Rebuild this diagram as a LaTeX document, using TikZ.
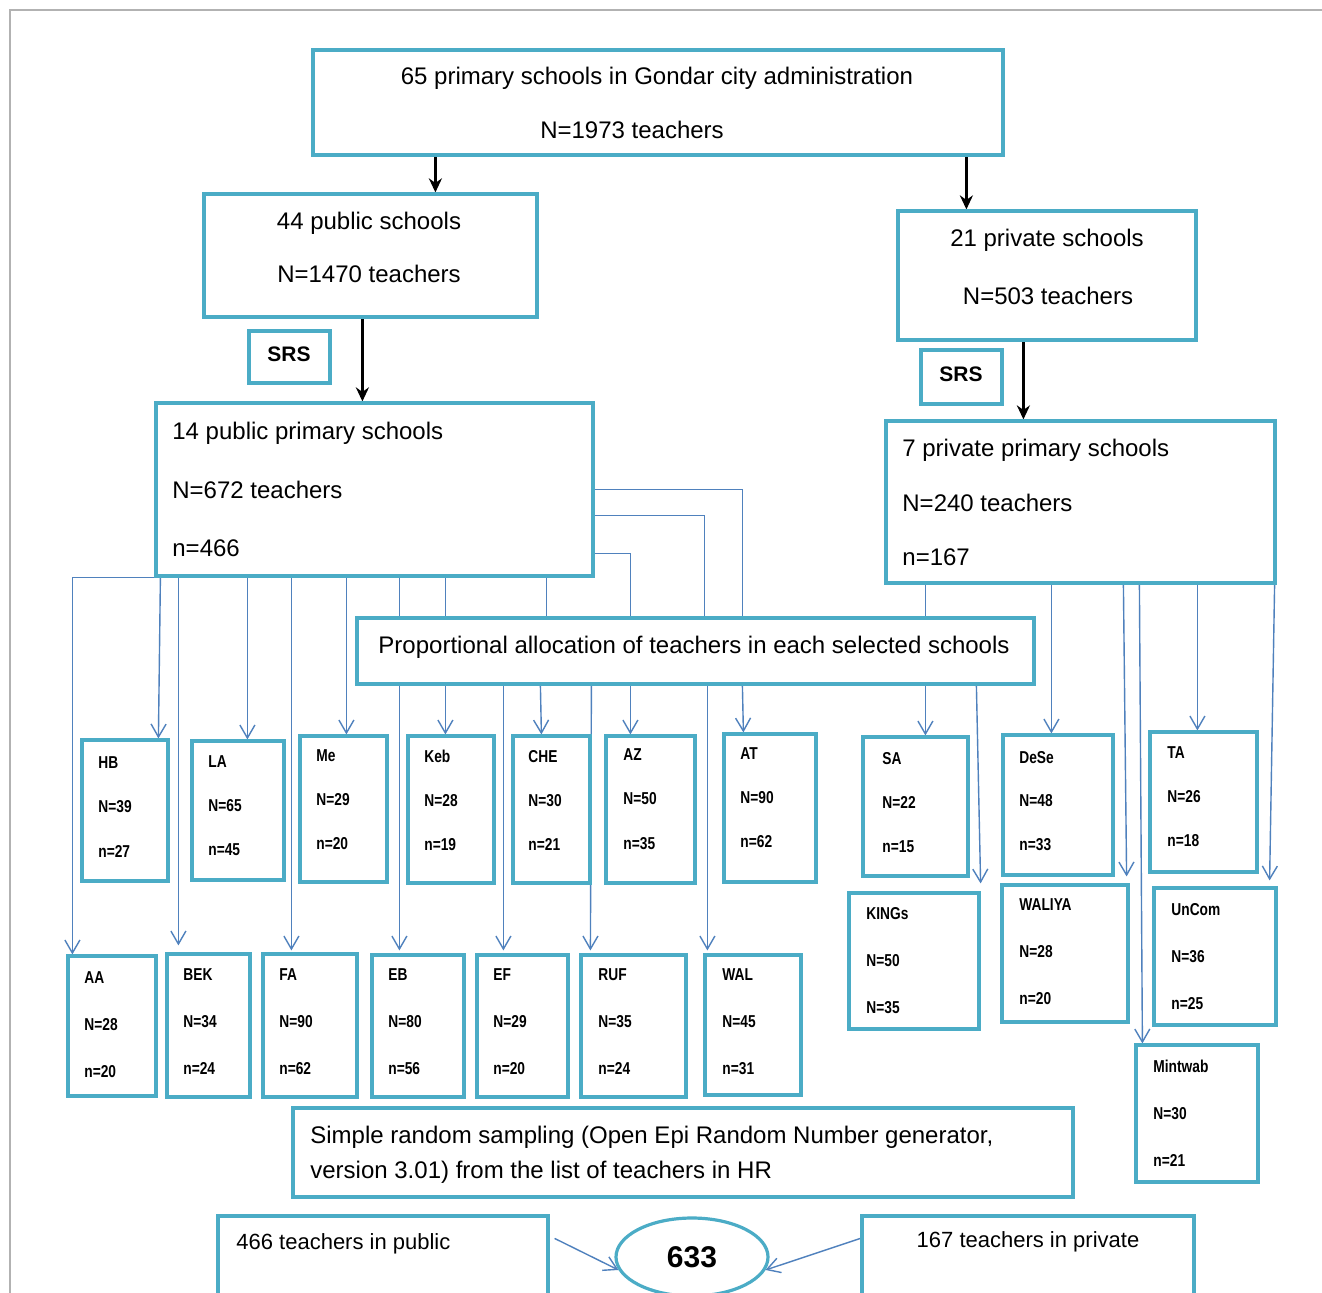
\documentclass[tikz,border=0pt]{standalone}
\usepackage{fontspec}
\setmainfont{Liberation Sans}
\newfontfamily\condf{Liberation Sans}[FakeStretch=0.8]
\usetikzlibrary{arrows.meta,calc,shapes.geometric,backgrounds}
\definecolor{tealb}{HTML}{4BACC6}
\definecolor{conb}{HTML}{4F81BD}
\tikzset{
  bx/.style={draw=tealb, line width=1.6pt, fill=white, inner sep=0pt},
  con/.style={draw=conb, line width=0.7pt, -{Straight Barb[length=6.5pt,width=7.5pt]}},
  conl/.style={draw=conb, line width=0.7pt},
  blk/.style={draw=black, line width=1.4pt, -{Stealth[length=7pt,width=6.5pt]}},
  big/.style={inner sep=0pt, font=\fontsize{12}{14}\selectfont, text height=8.6pt, text depth=0pt},
  mid/.style={inner sep=0pt, font=\fontsize{11}{13}\selectfont, text height=7.9pt, text depth=0pt},
  srs/.style={inner sep=0pt, font=\bfseries\fontsize{10.5}{12}\selectfont, text height=7.5pt, text depth=0pt},
  sml/.style={inner sep=0pt, font=\condf\bfseries\fontsize{8.6}{10}\selectfont, text height=6.1pt, text depth=0pt, anchor=west},
}
\newcommand\Bx[5]{\node[bx, minimum width={(#4-#2)*0.5pt}, minimum height={(#5-#3)*0.5pt}] (#1) at ({(#2+#4)/2},{(#3+#5)/2}) {};}
\newcommand\Sch[9]{\Bx{#1}{#2}{#3}{#4}{#5}
  \foreach \s [count=\i] in {#9} {\node[sml] (#1-\i) at (#6,{#7+(\i-1)*#8}) {\s};}}
\begin{document}
\begin{tikzpicture}[x=0.5pt,y=-0.5pt]
\clip (0,0) rectangle (1322,1292);
% main boxes
\Bx{top}{313}{50}{1003}{155}
\Bx{pubA}{204}{194}{537}{317}
\Bx{priA}{898}{211}{1196}{340}
\Bx{srsA}{249}{331}{330}{383}
\Bx{srsB}{921}{350}{1002}{404}
\Bx{pubB}{156}{403}{593}{576}
\Bx{priB}{886}{421}{1275}{583}
\Bx{prop}{357}{618}{1034}{684}
\Bx{sim}{293}{1108}{1073}{1197}
\Bx{tpub}{218}{1216}{548}{1320}
\Bx{tpri}{862}{1216}{1194}{1320}
\node[bx, ellipse, minimum width=76pt, minimum height=39pt, font=\bfseries\fontsize{15}{17}\selectfont] (ell) at (692,1257) {633};
% school boxes
\Sch{HB}{82}{740}{168}{881}{98}{762}{44.5}{HB,N=39,n=27}
\Sch{LA}{192}{741}{284}{880}{208}{761}{44}{LA,N=65,n=45}
\Sch{Me}{300}{736}{387}{882}{316}{755}{44}{Me,N=29,n=20}
\Sch{Keb}{408}{736}{494}{883}{424}{756}{44}{Keb,N=28,n=19}
\Sch{CHE}{513}{736}{590}{883}{528}{756}{44}{CHE,N=30,n=21}
\Sch{AZ}{606}{736}{695}{883}{623}{754}{44.5}{AZ,N=50,n=35}
\Sch{AT}{724}{734}{816}{882}{740}{753}{44}{AT,N=90,n=62}
\Sch{AA}{68}{956}{156}{1096}{84}{977}{47}{AA,N=28,n=20}
\Sch{BEK}{167}{954}{250}{1097}{183}{974}{47}{BEK,N=34,n=24}
\Sch{FA}{263}{954}{357}{1097}{279}{974}{47}{FA,N=90,n=62}
\Sch{EB}{372}{955}{464}{1097}{388}{974}{47}{EB,N=80,n=56}
\Sch{EF}{477}{955}{568}{1097}{493}{974}{47}{EF,N=29,n=20}
\Sch{RUF}{581}{955}{686}{1097}{598}{974}{47}{RUF,N=35,n=24}
\Sch{WAL}{705}{955}{801}{1095}{722}{974}{47}{WAL,N=45,n=31}
\Sch{SA}{863}{737}{968}{876}{882}{758}{44}{SA,N=22,n=15}
\Sch{DeSe}{1003}{735}{1113}{875}{1019}{757}{43.5}{DeSe,N=48,n=33}
\Sch{TA}{1150}{732}{1257}{872}{1167}{752}{44}{TA,N=26,n=18}
\Sch{KINGs}{849}{893}{979}{1029}{866}{913}{47}{KINGs,N=50,N=35}
\Sch{WALIYA}{1002}{885}{1128}{1022}{1019}{904}{47}{WALIYA,N=28,n=20}
\Sch{UnCom}{1154}{888}{1276}{1025}{1171}{909}{47}{UnCom,N=36,n=25}
\Sch{Mintwab}{1136}{1045}{1258}{1182}{1153}{1066}{47}{Mintwab,N=30,n=21}
% texts
\node[big] (top-1) at (657,76) {65 primary schools in Gondar city administration};
\node[big] (top-2) at (632,130) {N=1973 teachers};
\node[big] (pubA-1) at (369,221) {44 public schools};
\node[big] (pubA-2) at (369,274) {N=1470 teachers};
\node[big] (priA-1) at (1047,238) {21 private schools};
\node[big] (priA-2) at (1048,296) {N=503 teachers};
\node[srs] (srsA-1) at (289,354) {SRS};
\node[srs] (srsB-1) at (961,374) {SRS};
\node[big, anchor=west] (pubB-1) at (172,431) {14 public primary schools};
\node[big, anchor=west] (pubB-2) at (172,490) {N=672 teachers};
\node[big, anchor=west] (pubB-3) at (172,548) {n=466};
\node[big, anchor=west] (priB-1) at (902,448) {7 private primary schools};
\node[big, anchor=west] (priB-2) at (902,503) {N=240 teachers};
\node[big, anchor=west] (priB-3) at (902,557) {n=167};
\node[big] (prop-1) at (694,645) {Proportional allocation of teachers in each selected schools};
\node[big, anchor=west] (sim-1) at (310,1135) {Simple random sampling (Open Epi Random Number generator,};
\node[big, anchor=west] (sim-2) at (310,1170) {version 3.01) from the list of teachers in HR};
\node[mid, anchor=west] (tpub-1) at (236,1242) {466 teachers in public};
\node[mid] (tpri-1) at (1028,1240) {167 teachers in private};
% connectors
\begin{pgfonlayer}{background}
\fill[white] (0,0) rectangle (1322,1292);
\draw[gray!60, line width=1pt] (10,1300) -- (10,10) -- (1330,10);
\draw[blk] ($(top.south west)+(124,0)$) -- ($(pubA.north west)+(233,0)$);
\draw[blk] ($(top.south west)+(655,0)$) -- ($(priA.north west)+(70,0)$);
\draw[blk] ($(pubA.south west)+(160,0)$) -- ($(pubB.north west)+(208,0)$);
\draw[blk] ($(priA.south west)+(127,0)$) -- ($(priB.north west)+(139,0)$);
% public direct
\draw[con] (pubB.south west) -| ($(AA.north west)+(6,0)$);
\draw[con] ($(pubB.south west)+(6,0)$) -- ($(HB.north west)+(78,0)$);
\draw[con] ($(pubB.south west)+(24,0)$) -- ($(BEK.north west)+(13,-7)$);
\draw[con] ($(pubB.south west)+(93,0)$) -- ($(LA.north west)+(57,0)$);
\draw[con] ($(pubB.south west)+(137,0)$) -- ($(FA.north west)+(30,-2)$);
\draw[con] ($(pubB.south west)+(192,0)$) -- ($(Me.north west)+(48,0)$);
% public to proportional
\draw[conl] ($(pubB.south west)+(245,0)$) -- ($(prop.north west)+(44,0)$);
\draw[conl] ($(pubB.south west)+(291,0)$) -- ($(prop.north west)+(90,0)$);
\draw[conl] ($(pubB.south west)+(392,0)$) -- ($(prop.north west)+(191,0)$);
\draw[conl] ($(pubB.north east)+(0,88)$) -| ($(prop.north west)+(387,0)$);
\draw[conl] ($(pubB.north east)+(0,114)$) -| ($(prop.north west)+(349,0)$);
\draw[conl] ($(pubB.north east)+(0,152)$) -| ($(prop.north west)+(275,0)$);
% proportional to schools
\draw[con] ($(prop.south west)+(44,0)$) -- ($(EB.north west)+(29,-3)$);
\draw[con] ($(prop.south west)+(90,0)$) -- ($(Keb.north west)+(39,0)$);
\draw[con] ($(prop.south west)+(148,0)$) -- ($(EF.north west)+(28,-3)$);
\draw[con] ($(prop.south west)+(185,0)$) -- ($(CHE.north west)+(30,0)$);
\draw[con] ($(prop.south west)+(236,0)$) -- ($(RUF.north west)+(11,-3)$);
\draw[con] ($(prop.south west)+(275,0)$) -- ($(AZ.north west)+(26,0)$);
\draw[con] ($(prop.south west)+(352,0)$) -- ($(WAL.north west)+(4,-3)$);
\draw[con] ($(prop.south west)+(387,0)$) -- ($(AT.north west)+(21,0)$);
% private
\draw[conl] ($(priB.south west)+(41,0)$) -- ($(prop.north west)+(570,0)$);
\draw[con] ($(prop.south west)+(570,0)$) -- ($(SA.north west)+(64,0)$);
\draw[con] ($(prop.south west)+(621,0)$) -- ($(KINGs.north east)+(0,-8)$);
\draw[con] ($(priB.south west)+(167,0)$) -- ($(DeSe.north west)+(50,0)$);
\draw[con] ($(priB.south west)+(239,0)$) -- ($(WALIYA.north east)+(-3,-7)$);
\draw[con] ($(priB.south west)+(255,0)$) -- ($(Mintwab.north west)+(8,0)$);
\draw[con] ($(priB.south west)+(313,0)$) -- ($(TA.north west)+(49,0)$);
\draw[con] ($(priB.south east)+(-2,0)$) -- ($(UnCom.north east)+(-8,-6)$);
% bottom
\draw[con] ($(tpub.north east)+(5,24)$) -- (ell.190);
\draw[con] ($(tpri.north west)+(0,24)$) -- (ell.-10);
\end{pgfonlayer}
\end{tikzpicture}
\end{document}
